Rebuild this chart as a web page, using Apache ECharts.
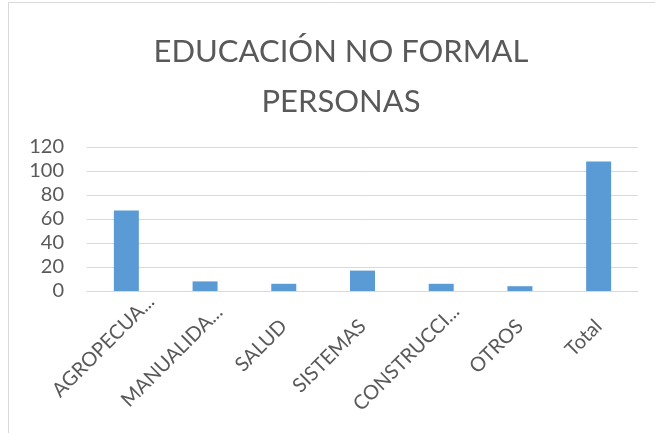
<!DOCTYPE html>
<html lang="es">
<head>
    <meta charset="UTF-8">
    <script type="text/javascript" src="https://cdn.jsdelivr.net/npm/echarts@6/dist/echarts.min.js"></script>
    <style>
        html, body { margin: 0; padding: 0; background: #ffffff; }
    </style>
</head>
<body>
    <div id="main" style="width: 655px;height: 433px;"></div>
    <script type="text/javascript">
        // datos
        var categorias = ['AGROPECUA...', 'MANUALIDA...', 'SALUD', 'SISTEMAS', 'CONSTRUCCI...', 'OTROS', 'Total'];
        var personas = [67, 8, 6, 17, 6, 4, 108];
        var ticksY = [0, 20, 40, 60, 80, 100, 120];
        // corrimiento de las etiquetas recortadas (como lo hace Excel)
        var corrimiento = [35, 20, 0, 0, 21, 0, 0];

        var fuente = 'Lato, "Open Sans", sans-serif';
        var gris = '#595959';

        var etiquetas = categorias.map(function (c, i) {
            if (!corrimiento[i]) return c;
            return { value: c, textStyle: { padding: [0, -corrimiento[i], 16, 0] } };
        });

        var myChart = echarts.init(document.getElementById('main'));
        var option = {
            animation: false,
            backgroundColor: '#ffffff',
            title: {
                text: 'EDUCACIÓN NO FORMAL\nPERSONAS',
                left: 336,
                top: 22,
                textAlign: 'center',
                textStyle: {
                    fontFamily: fuente,
                    fontSize: 31,
                    fontWeight: 'normal',
                    color: gris,
                    lineHeight: 50
                }
            },
            graphic: [{
                type: 'rect',
                shape: { x: 8.5, y: 2.5, width: 700, height: 500 },
                style: { fill: 'none', stroke: '#d9d9d9', lineWidth: 1 },
                silent: true
            }],
            grid: {
                left: 87,
                right: 17,
                top: 147,
                bottom: 142
            },
            xAxis: {
                type: 'category',
                data: etiquetas,
                axisTick: { show: false },
                axisLine: { lineStyle: { color: '#d9d9d9', width: 1 } },
                axisLabel: {
                    interval: 0,
                    rotate: 45,
                    margin: 32,
                    hideOverlap: false,
                    fontFamily: fuente,
                    fontSize: 20,
                    color: gris
                }
            },
            yAxis: {
                type: 'value',
                min: ticksY[0],
                max: ticksY[ticksY.length - 1],
                interval: ticksY[1] - ticksY[0],
                axisLine: { show: false },
                axisTick: { show: false },
                splitLine: { lineStyle: { color: '#d9d9d9', width: 1 } },
                axisLabel: {
                    margin: 23,
                    fontFamily: fuente,
                    fontSize: 20,
                    color: gris
                }
            },
            series: [{
                name: 'PERSONAS',
                type: 'bar',
                barWidth: 25,
                data: personas,
                itemStyle: { color: '#5b9bd5' }
            }]
        };
        myChart.setOption(option);
    </script>
</body>
</html>
